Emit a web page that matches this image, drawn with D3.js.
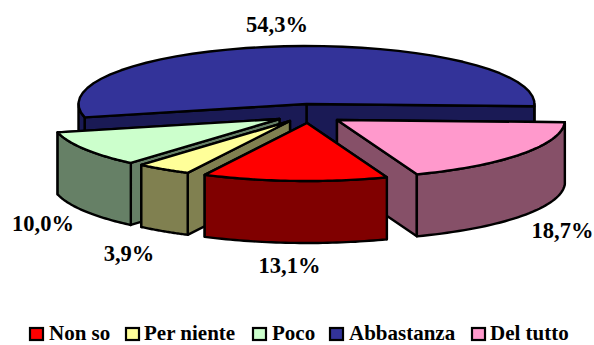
<!DOCTYPE html>
<html><head><meta charset="utf-8">
<script src="https://cdn.jsdelivr.net/npm/d3@7"></script>
<style>html,body{margin:0;padding:0;background:#fff}svg{display:block}</style>
</head><body><svg id="c" width="594" height="345"></svg>
<script>
const categories = ["Non so","Per niente","Poco","Abbastanza","Del tutto"];
const values = [13.1,3.9,10.0,54.3,18.7];
const labels = ["13,1%","3,9%","10,0%","54,3%","18,7%"];
const topColors = ["#ff0000","#ffff99","#ccffcc","#333399","#ff99cc"];
const sideColors = ["#800000","#808050","#668066","#1a1a55","#865068"];
// layout only
const apexX = [307,290,279.5,306.5,337];
const apexY = [123,121,119,104,120];
const labelX = [289.5,129,43,277,562.5];
const labelY = [272.5,261,231,32,238];
const legendSwatchX = [29,125,252,329,471];
const legendTextX = [49,144,272,349,490];
const drawOrder = [3,2,1,4,0];
const R = 228, ry = 58, depth = 62, start = 159.5*Math.PI/180;

const svg = d3.select("#c");
const slices = d3.pie().sort(null).value(d=>d).startAngle(start).endAngle(start+2*Math.PI)(values);
const line = d3.line();
const pt = (i,a,dz=0)=>[apexX[i]+R*Math.sin(a), apexY[i]-ry*Math.cos(a)+dz];
const arcPts = (i,a0,a1,dz=0)=>d3.range(0,41).map(k=>pt(i,a0+(a1-a0)*k/40,dz));
const stroke = {stroke:"#000","stroke-width":2.4,"stroke-linejoin":"round"};
function poly(points,fill){
  const p = svg.append("path").attr("d",line(points)+"Z").attr("fill",fill);
  Object.entries(stroke).forEach(([k,v])=>p.attr(k,v));
}
drawOrder.forEach(i=>{
  const s = slices[i], a0=s.startAngle, a1=s.endAngle;
  const A=[apexX[i],apexY[i]], Ad=[apexX[i],apexY[i]+depth];
  // radial faces, rear edge first so the nearer one lies on top
  [a0,a1].sort((u,v)=>pt(i,u)[1]-pt(i,v)[1]).forEach(a=>{
    poly([A,pt(i,a),pt(i,a,depth),Ad],sideColors[i]);
  });
  // outer wall: visible part of the rim (front half of the ellipse)
  const P=Math.PI, ranges=[[P/2,3*P/2],[5*P/2,7*P/2]];
  ranges.forEach(([r0,r1])=>{
    const b0=Math.max(a0,r0), b1=Math.min(a1,r1);
    if(b1>b0) poly([...arcPts(i,b0,b1),...arcPts(i,b0,b1,depth).reverse()],sideColors[i]);
  });
  // top
  poly([A,...arcPts(i,a0,a1)],topColors[i]);
});
const font='"Liberation Serif","Times New Roman",serif';
svg.selectAll("text.l").data(labels).join("text").attr("class","l")
  .attr("x",(d,i)=>labelX[i]).attr("y",(d,i)=>labelY[i]).attr("text-anchor","middle")
  .attr("font-family",font).attr("font-weight","bold").attr("font-size",22.5).attr("fill","#000").text(d=>d);
const lg = svg.selectAll("g.lg").data(categories).join("g").attr("class","lg");
lg.append("rect").attr("x",(d,i)=>legendSwatchX[i]+1).attr("y",328).attr("width",13).attr("height",12)
  .attr("fill",(d,i)=>topColors[i]).attr("stroke","#000").attr("stroke-width",2.2);
lg.append("text").attr("x",(d,i)=>legendTextX[i]).attr("y",340.3)
  .attr("font-family",font).attr("font-weight","bold").attr("font-size",21).attr("fill","#000").text(d=>d);
</script></body></html>
